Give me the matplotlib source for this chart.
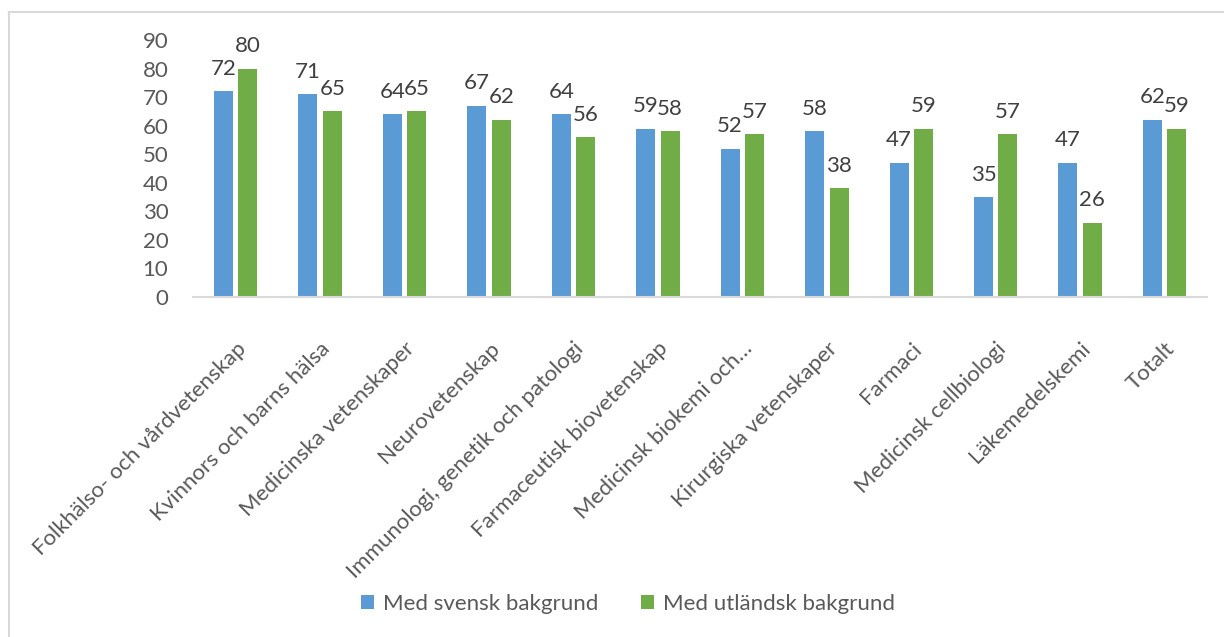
import numpy as np
import matplotlib.pyplot as plt
from matplotlib.lines import Line2D

# Data
kategorier = ['Folkhälso- och vårdvetenskap', 'Kvinnors och barns hälsa',
              'Medicinska vetenskaper', 'Neurovetenskap',
              'Immunologi, genetik och patologi', 'Farmaceutisk biovetenskap',
              'Medicinsk biokemi och…', 'Kirurgiska vetenskaper', 'Farmaci',
              'Medicinsk cellbiologi', 'Läkemedelskemi', 'Totalt']
svensk = [72, 71, 64, 67, 64, 59, 52, 58, 47, 35, 47, 62]
utlandsk = [80, 65, 65, 62, 56, 58, 57, 38, 59, 57, 26, 59]

plt.rcParams['font.family'] = ['Lato', 'DejaVu Sans']
fs = 16

fig = plt.figure(figsize=(12.24, 6.37), dpi=100)
ax = fig.add_axes([0.158, 0.534, 0.828, 0.403])

x = np.arange(len(kategorier))
w = 0.225
off = 0.145
b1 = ax.bar(x - off, svensk, w, color='#5B9BD5', label='Med svensk bakgrund')
b2 = ax.bar(x + off, utlandsk, w, color='#70AD47', label='Med utländsk bakgrund')

for bars in (b1, b2):
    ax.bar_label(bars, padding=9, fontsize=fs, color='#404040')

ax.set_xlim(-0.5, len(kategorier) - 0.5)
ax.set_ylim(0, 90)
ax.set_yticks(range(0, 91, 10))
ax.tick_params(axis='y', length=0, pad=18, labelsize=fs, labelcolor='#595959')
ax.set_xticks(x)
ax.set_xticklabels(kategorier, rotation=45, ha='right', rotation_mode='anchor',
                   fontsize=fs, color='#595959')
ax.tick_params(axis='x', length=0, pad=30)

for s in ['top', 'right', 'left']:
    ax.spines[s].set_visible(False)
ax.spines['bottom'].set_color('#D9D9D9')
ax.spines['bottom'].set_linewidth(1.5)

ax.legend(loc='center', bbox_to_anchor=(0.513, 1 - 604 / 637), bbox_transform=fig.transFigure,
          ncol=2, frameon=False, fontsize=fs, labelcolor='#595959',
          handlelength=0.6, handleheight=0.6, handletextpad=0.4, columnspacing=1.9)

# chart frame (only top and left edges visible)
fig.add_artist(Line2D([9 / 1224, 9 / 1224], [0, 1 - 12 / 637], color='#D9D9D9', lw=1.5))
fig.add_artist(Line2D([9 / 1224, 1], [1 - 12 / 637, 1 - 12 / 637], color='#D9D9D9', lw=1.5))

fig.savefig('out.png', dpi=100)
